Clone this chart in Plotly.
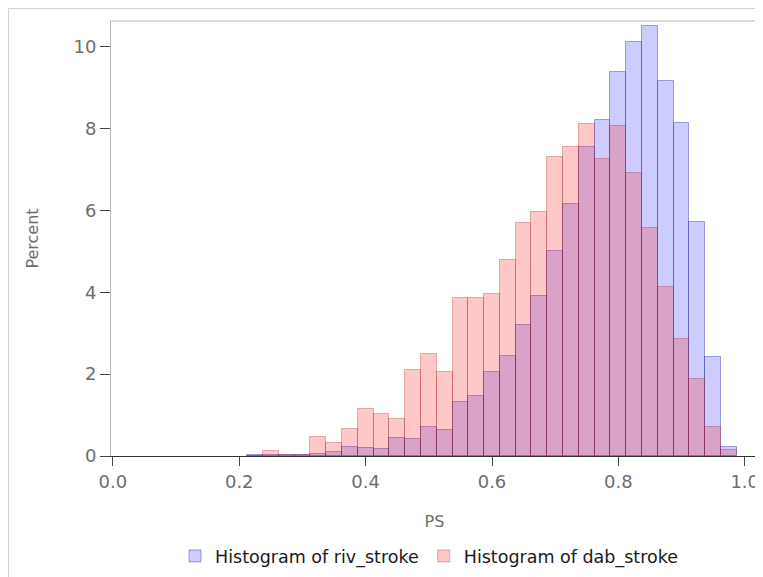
import plotly.graph_objects as go

# Bin midpoints (PS), bin width 0.025
bin_centers = [0.225, 0.25, 0.275, 0.3, 0.325, 0.35, 0.375, 0.4, 0.425, 0.45,
               0.475, 0.5, 0.525, 0.55, 0.575, 0.6, 0.625, 0.65, 0.675, 0.7,
               0.725, 0.75, 0.775, 0.8, 0.825, 0.85, 0.875, 0.9, 0.925, 0.95, 0.975]

riv_stroke_pct = [0.02, 0.02, 0.03, 0.02, 0.05, 0.10, 0.22, 0.20, 0.16, 0.43,
                  0.42, 0.72, 0.64, 1.31, 1.47, 2.05, 2.44, 3.21, 3.91, 5.00,
                  6.15, 7.55, 8.21, 9.38, 10.12, 10.52, 9.16, 8.14, 5.73, 2.43, 0.21]

dab_stroke_pct = [0.0, 0.12, 0.03, 0.03, 0.47, 0.32, 0.67, 1.16, 1.02, 0.90,
                  2.09, 2.49, 2.05, 3.87, 3.87, 3.96, 4.80, 5.69, 5.96, 7.30,
                  7.56, 8.11, 7.26, 8.06, 6.91, 5.57, 4.14, 2.86, 1.87, 0.72, 0.14]

x_ticks = [0.0, 0.2, 0.4, 0.6, 0.8, 1.0]
y_ticks = [0, 2, 4, 6, 8, 10]

BIN_W = 0.025
FONT = "DejaVu Sans"

fig = go.Figure()
fig.add_trace(go.Bar(
    x=bin_centers, y=riv_stroke_pct, width=BIN_W,
    name="Histogram of riv_stroke",
    marker=dict(color="rgba(51,51,255,0.25)",
                line=dict(color="rgba(40,40,170,0.4)", width=1)),
))
fig.add_trace(go.Bar(
    x=bin_centers, y=dab_stroke_pct, width=BIN_W,
    name="Histogram of dab_stroke",
    marker=dict(color="rgba(255,35,35,0.25)",
                line=dict(color="rgba(150,30,30,0.3)", width=1)),
))

fig.update_layout(
    width=755, height=569,
    barmode="overlay", bargap=0,
    paper_bgcolor="white", plot_bgcolor="white",
    margin=dict(l=103, r=5, t=13, b=121, autoexpand=False),
    font=dict(family=FONT, color="#666666"),
    showlegend=True,
    legend=dict(orientation="h", x=0.4915, xanchor="center", y=-0.23, yanchor="middle",
                font=dict(family=FONT, size=17.5, color="#1a1a1a"),
                traceorder="normal", itemclick=False),
    xaxis=dict(range=[-0.003, 1.021], tickvals=x_ticks, tickformat=".1f",
               ticks="outside", ticklen=9, tickcolor="#444444", tickwidth=1,
               showline=True, linecolor="#333333", linewidth=1, mirror=False,
               showgrid=False, zeroline=False, automargin=False,
               tickfont=dict(family=FONT, size=18, color="#6e6e6e"),
               title=dict(text="PS", font=dict(family=FONT, size=16, color="#6e6e6e"), standoff=25)),
    yaxis=dict(range=[0, 10.63], tickvals=y_ticks,
               ticks="outside", ticklen=10, tickcolor="#444444", tickwidth=1,
               showline=True, linecolor="#b8b8b8", linewidth=1, mirror=True,
               showgrid=False, zeroline=False, automargin=False,
               tickfont=dict(family=FONT, size=18, color="#6e6e6e"),
               title=dict(text="Percent", font=dict(family=FONT, size=16, color="#6e6e6e"), standoff=30)),
    shapes=[
        dict(type="line", xref="paper", yref="paper", x0=0, x1=1, y0=1, y1=1,
             line=dict(color="#b8b8b8", width=1)),
        dict(type="rect", xref="paper", yref="paper",
             x0=-0.1584, x1=1.05, y0=-0.32, y1=1.0287,
             line=dict(color="#d4d4d4", width=1), fillcolor="rgba(0,0,0,0)", layer="below"),
    ],
)

fig.write_html("out.html")
